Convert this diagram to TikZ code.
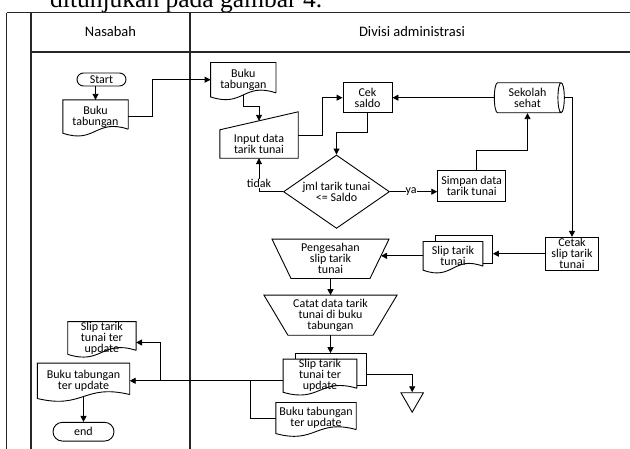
\documentclass[tikz,border=0pt]{standalone}
\usepackage{fontspec}
\setmainfont{Carlito}
\newfontfamily\pageserif{Liberation Serif}
\usetikzlibrary{positioning,shapes.geometric,arrows.meta,calc}

\tikzset{
  shape line/.style={line width=0.9pt},
  lane line/.style={line width=1.1pt, black!85},
  arr/.style={line width=0.9pt, -{Triangle[length=6pt,width=6pt]}},
  lbl/.style={fill=white, inner sep=1pt},
  txt/.style={font=\fontsize{12}{11}\selectfont, align=center, inner sep=0pt},
  % process box
  proc/.style 2 args={txt, draw, shape line, minimum width=#1, minimum height=#2},
  % start / end
  term/.style 2 args={txt, draw, shape line, rounded corners=#2/2, minimum width=#1, minimum height=#2},
  % document with wavy bottom
  doc/.style 2 args={txt, minimum width=#1, minimum height=#2,
    append after command={\pgfextra{
      \draw[shape line] ([yshift=4pt]\tikzlastnode.south east) -- (\tikzlastnode.north east)
        -- (\tikzlastnode.north west) -- (\tikzlastnode.south west)
        .. controls ($(\tikzlastnode.south west)!0.5!(\tikzlastnode.south east)+(0pt,-11pt)$)
        and ($(\tikzlastnode.south west)!0.5!(\tikzlastnode.south east)+(0pt,15pt)$)
        .. ([yshift=4pt]\tikzlastnode.south east);}}},
  % two stacked documents
  multidoc/.style 2 args={doc={#1}{#2},
    append after command={\pgfextra{
      \draw[shape line] ([xshift=12pt]\tikzlastnode.north west) -- ++(0pt,6pt)
        -- ([shift={(10pt,6pt)}]\tikzlastnode.north east)
        -- ([shift={(10pt,7pt)}]\tikzlastnode.south east)
        -- ([yshift=7pt]\tikzlastnode.south east);}}},
  % manual input, slanted top
  maninput/.style 2 args={txt, minimum width=#1, minimum height=#2,
    append after command={\pgfextra{
      \draw[shape line] (\tikzlastnode.north west) -- ([yshift=18pt]\tikzlastnode.north east)
        -- (\tikzlastnode.south east) -- (\tikzlastnode.south west) -- cycle;}}},
  % manual operation
  manop/.style n args={3}{txt, minimum width=#1, minimum height=#2,
    append after command={\pgfextra{
      \draw[shape line] (\tikzlastnode.north west) -- (\tikzlastnode.north east)
        -- ([xshift=-#3]\tikzlastnode.south east) -- ([xshift=#3]\tikzlastnode.south west) -- cycle;}}},
}

\begin{document}
\begin{tikzpicture}[x=1pt, y=-1pt]
    \useasboundingbox (0,0) rectangle (630,448);

    % Page text above the chart
    \node[anchor=base west, inner sep=0pt, font=\pageserif\fontsize{25.5}{30}\selectfont] (pagetext) at (50,7.3) {ditunjukan pada gambar 4.};

    % Swimlanes
    \draw[lane line] (6.5,12.5) -- (640,12.5);
    \draw[lane line] (31,52) -- (640,52);
    \draw[lane line] (6.5,12.5) -- (6.5,460);
    \draw[lane line] (31,12.5) -- (31,460);
    \draw[lane line] (190,12.5) -- (190,460);
    \node[font=\fontsize{14.5}{16}\selectfont] (nasabahhead) at (110.5,32) {Nasabah};
    \node[font=\fontsize{14.5}{16}\selectfont] (adminhead) at (412,32) {Divisi administrasi};

    % Nasabah
    \node[term={49pt}{13pt}] (start) at (101.5,79.5) {Start};
    \node[doc={65pt}{33pt}] (bukuA) at (95.5,116.5) {Buku\\tabungan};
    \node[doc={68pt}{30.6pt}] (slipN) at (101.9,338) {Slip tarik\\tunai ter\\update};
    \node[doc={92pt}{35pt}] (bukuN) at (83.5,380.8) {Buku tabungan\\ter update};
    \node[term={61pt}{18.7pt}] (end) at (83.5,431.7) {end};

    % Divisi administrasi
    \node[doc={65pt}{34pt}] (bukuB) at (243.3,79.7) {Buku\\tabungan};
    \node[maninput={78pt}{28pt}] (inp) at (259,144) {Input data\\tarik tunai};
    \node[proc={49pt}{30pt}] (cek) at (367.5,97.7) {Cek\\saldo};
    \node[txt, diamond, draw, shape line, aspect=1.45, minimum width=106pt, minimum height=73.4pt] (dia) at (336.5,191.7) {jml tarik tunai\\<= Saldo};
    \node[proc={68pt}{31.7pt}] (simpan) at (471.7,185.8) {Simpan data\\tarik tunai};
    \node[txt, cylinder, draw, shape line, shape aspect=0.33, minimum width=30pt, minimum height=70pt] (sek) at (527.5,97.7) {Sekolah\\sehat};
    \node[proc={52.6pt}{32.7pt}] (cetak) at (572,253.7) {Cetak\\slip tarik\\tunai};
    \node[multidoc={59.4pt}{28.3pt}] (slip) at (453,255.8) {Slip tarik\\tunai};
    \node[manop={116.6pt}{39pt}{19pt}] (peng) at (330.5,258.8) {Pengesahan\\slip tarik\\tunai};
    \node[manop={132.7pt}{39.7pt}{24pt}] (catat) at (330.5,315.2) {Catat data tarik\\tunai di buku\\tabungan};
    \node[multidoc={73.4pt}{32.7pt}] (slipupd) at (320,375.7) {Slip tarik\\tunai ter\\update};
    \node[doc={80pt}{30.7pt}] (bukuupd) at (316,418) {Buku tabungan\\ter update};
    \node[regular polygon, regular polygon sides=3, shape border rotate=180, draw, shape line, minimum size=26pt, inner sep=0pt] (tri) at (412.2,399.2) {};

    % Flow
    \draw[arr] (bukuA.north |- start.south) -- (bukuA.north);
    \draw[arr] (bukuA.east) -- ++(24.7,0) |- (bukuB.west);
    \draw[arr] ([yshift=2pt]bukuB.south) -- ++(0,12) -| ([yshift=9pt]inp.north);
    \draw[arr] ([yshift=9pt]inp.east) -- ++(24.7,0) |- (cek.west);
    \draw[arr] (cek.south) -- ++(0,19) -| (dia.north);
    \draw[arr] (dia.west) -| (inp.south) node[pos=0.62, lbl, txt] {tidak};
    \draw[arr] (dia.east) -- (dia.east -| simpan.west) node[pos=0.45, lbl, txt] {ya};
    \draw[arr] ([xshift=5pt]simpan.north) -- ++(0,-19.3) -| (sek.south);
    \draw[arr] (sek.west) -- (cek.east);
    \draw[arr] (sek.east) -| (cetak.north);
    \draw[arr] (cetak.west) -- ($(cetak.west -| slip.east)+(10,0)$);
    \draw[arr] (slip.west) -- ($(slip.west -| peng.east)+(-8,0)$);
    \draw[arr] (peng.south) -- (catat.north);
    \draw[arr] (catat.south) -- ($(catat.south |- slipupd.north)+(0,-6)$);
    \draw[arr] ($(slipupd.east)+(10,-1.5)$) -| (tri.north);
    \draw[arr] ([yshift=-5pt]slipupd.west) -- ++(-122.6,0) |- ([yshift=-4.5pt]slipN.east);
    \draw[arr] (bukuupd.west) -- ++(-25.3,0) |- (bukuN.east);
    \draw[arr] ([yshift=2pt]bukuN.south) -- (end.north);

\end{tikzpicture}
\end{document}
